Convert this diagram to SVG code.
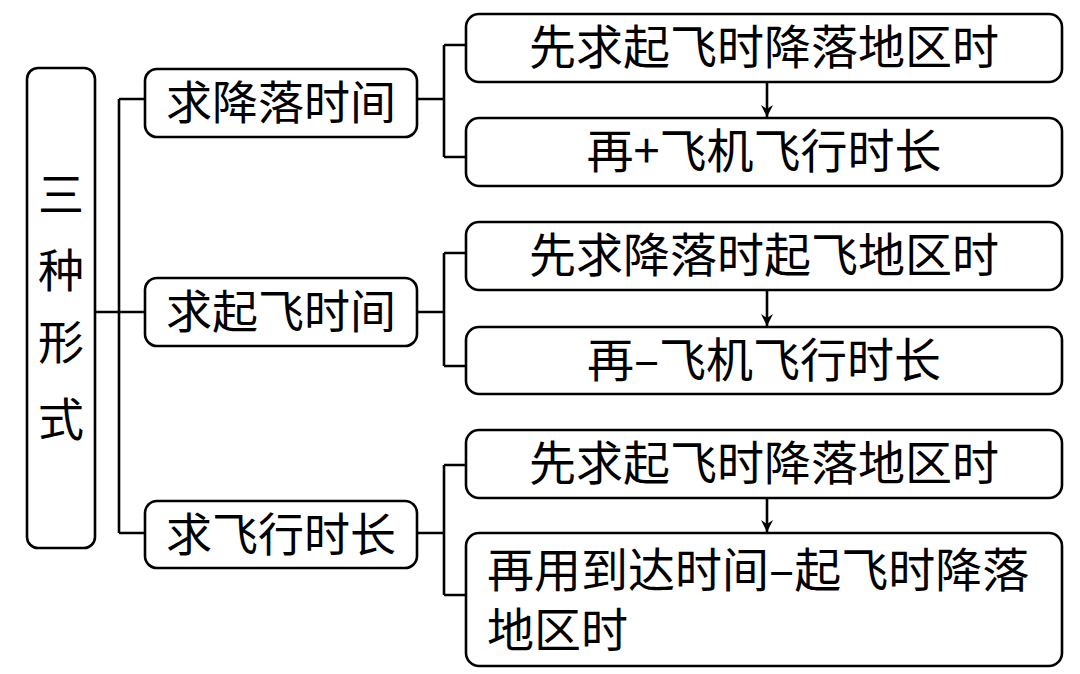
<svg xmlns="http://www.w3.org/2000/svg" width="1080" height="674" viewBox="0 0 1080 674">
<style>
.box{fill:#fff;stroke:#000;stroke-width:2.6}
.ln{fill:none;stroke:#000;stroke-width:2.6}
.t{font-family:"Noto Sans CJK SC","Noto Sans",sans-serif;font-size:46px;fill:#000}
.tr{font-family:"Noto Sans CJK SC","Noto Sans",sans-serif;font-size:47px;fill:#000}
</style>
<defs>
<marker id="ah" viewBox="0 0 12 20" refX="12" refY="6" markerWidth="12" markerHeight="20" markerUnits="userSpaceOnUse" orient="auto">
<path d="M0,0 L12,6 L0,12 L4,6 Z" fill="#000"/>
</marker>
</defs>
<rect width="1080" height="674" fill="#fff"/>
<g id="connectors">
<path class="ln" d="M95,312 H145 M119,99 V533 M119,99 H145 M119,533 H145"/>
<path class="ln" d="M417,99 H444 M444,45 V157 M444,45 H466 M444,157 H466"/>
<path class="ln" d="M417,312 H444 M444,253 V366 M444,253 H466 M444,366 H466"/>
<path class="ln" d="M417,533 H444 M444,465 V595 M444,465 H466 M444,595 H466"/>
<line class="ln" x1="767" y1="82" x2="767" y2="117" marker-end="url(#ah)"/>
<line class="ln" x1="767" y1="290" x2="767" y2="326" marker-end="url(#ah)"/>
<line class="ln" x1="767" y1="498" x2="767" y2="532" marker-end="url(#ah)"/>
</g>
<g id="root">
<rect class="box" x="27" y="68" width="68" height="480" rx="11"/>
<text class="t" x="61" y="211" font-size="44" text-anchor="middle">三</text>
<text class="t" x="61" y="287" font-size="44" text-anchor="middle">种</text>
<text class="t" x="61" y="359" font-size="44" text-anchor="middle">形</text>
<text class="t" x="61" y="436" font-size="44" text-anchor="middle">式</text>
</g>
<g id="m1">
<rect class="box" x="145" y="69" width="272" height="68" rx="12"/>
<text class="t" x="281" y="119" text-anchor="middle">求降落时间</text>
</g>
<g id="m2">
<rect class="box" x="145" y="278" width="272" height="68" rx="12"/>
<text class="t" x="281" y="328" text-anchor="middle">求起飞时间</text>
</g>
<g id="m3">
<rect class="box" x="145" y="501" width="272" height="67" rx="12"/>
<text class="t" x="281" y="551" text-anchor="middle">求飞行时长</text>
</g>
<g id="r1">
<rect class="box" x="466" y="14" width="596" height="68" rx="13"/>
<text class="tr" x="764" y="64" text-anchor="middle">先求起飞时降落地区时</text>
</g>
<g id="r2">
<rect class="box" x="466" y="118" width="596" height="68" rx="13"/>
<text class="tr" x="764" y="168" text-anchor="middle">再+飞机飞行时长</text>
</g>
<g id="r3">
<rect class="box" x="466" y="222" width="596" height="68" rx="13"/>
<text class="tr" x="764" y="272" text-anchor="middle">先求降落时起飞地区时</text>
</g>
<g id="r4">
<rect class="box" x="466" y="327" width="596" height="67" rx="13"/>
<text class="tr" x="764" y="377" text-anchor="middle">再–飞机飞行时长</text>
</g>
<g id="r5">
<rect class="box" x="466" y="430" width="596" height="68" rx="13"/>
<text class="tr" x="764" y="480" text-anchor="middle">先求起飞时降落地区时</text>
</g>
<g id="r6">
<rect class="box" x="466" y="533" width="596" height="133" rx="13"/>
<text class="tr" x="487" y="587">再用到达时间–起飞时降落</text>
<text class="tr" x="487" y="647">地区时</text>
</g>
</svg>
